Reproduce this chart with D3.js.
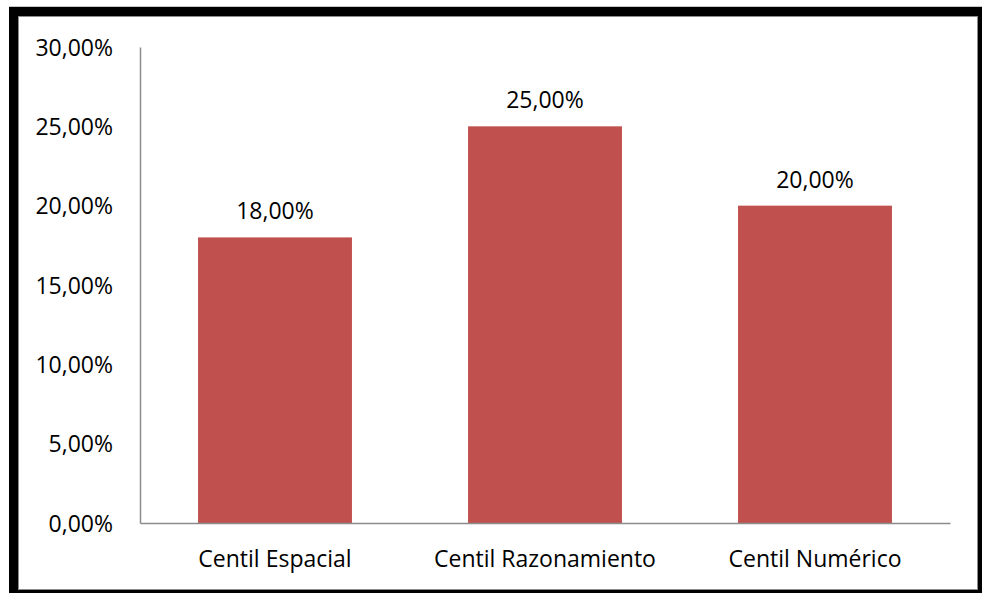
<!DOCTYPE html>
<html>
<head>
<meta charset="utf-8">
<script src="https://cdn.jsdelivr.net/npm/d3@7"></script>
<style>
  html, body { margin: 0; padding: 0; background: #fff; }
  svg { display: block; }
  text { font-family: "Open Sans", "Noto Sans", sans-serif; fill: #000; }
</style>
</head>
<body>
<svg id="chart" width="982" height="593"></svg>
<script>
const categories = ["Centil Espacial", "Centil Razonamiento", "Centil Numérico"];
const values = [0.18, 0.25, 0.20];
const yTicks = [0, 0.05, 0.10, 0.15, 0.20, 0.25, 0.30];

const fmt = v => (v * 100).toFixed(2).replace(".", ",") + "%";

const svg = d3.select("#chart");
const W = 982, H = 593;
const FS = 23;

// frame
svg.append("rect").attr("x", 0).attr("y", 0).attr("width", W).attr("height", H).attr("fill", "#fff");
svg.append("line").attr("x1", 9).attr("x2", W).attr("y1", 6.5).attr("y2", 6.5).attr("stroke", "#c8c8c8");
svg.append("rect").attr("x", 9).attr("y", 7).attr("width", W - 9).attr("height", H - 7).attr("fill", "#000");
svg.append("rect").attr("x", 18.5).attr("y", 16.5).attr("width", 959).attr("height", 573)
  .attr("fill", "#fff").attr("stroke", "#8c8c8c").attr("stroke-width", 1);

const margin = { left: 140, right: 950, top: 47, bottom: 523 };

const x = d3.scaleBand().domain(categories).range([margin.left, margin.right])
  .paddingInner(0.43).paddingOuter(0.215);
const y = d3.scaleLinear().domain([0, 0.30]).range([margin.bottom, margin.top]);

// bars
svg.append("g").selectAll("rect").data(values).join("rect")
  .attr("x", (d, i) => x(categories[i]))
  .attr("y", d => y(d))
  .attr("width", x.bandwidth())
  .attr("height", d => y(0) - y(d))
  .attr("fill", "#C0504D");

// y axis
const yAxis = svg.append("g").attr("transform", `translate(${margin.left},0)`)
  .call(d3.axisLeft(y).tickValues(yTicks).tickFormat(fmt).tickSize(0).tickPadding(27));
yAxis.select(".domain").attr("stroke", "#8c8c8c").attr("stroke-width", 1.5);
yAxis.selectAll("text").attr("font-size", FS).attr("fill", "#000")
  .attr("font-family", '"Open Sans", sans-serif').attr("dy", "0.36em");

// x axis
const xAxis = svg.append("g").attr("transform", `translate(0,${margin.bottom})`)
  .call(d3.axisBottom(x).tickSize(0).tickPadding(0));
xAxis.select(".domain").attr("stroke", "#8c8c8c").attr("stroke-width", 1.5);
xAxis.selectAll("text").attr("font-size", FS).attr("fill", "#000")
  .attr("font-family", '"Open Sans", sans-serif').attr("dy", null).attr("y", 44);

// data labels
svg.append("g").selectAll("text").data(values).join("text")
  .attr("x", (d, i) => x(categories[i]) + x.bandwidth() / 2)
  .attr("y", d => y(d) - 18)
  .attr("text-anchor", "middle")
  .attr("font-size", FS)
  .text(d => fmt(d));
</script>
</body>
</html>
